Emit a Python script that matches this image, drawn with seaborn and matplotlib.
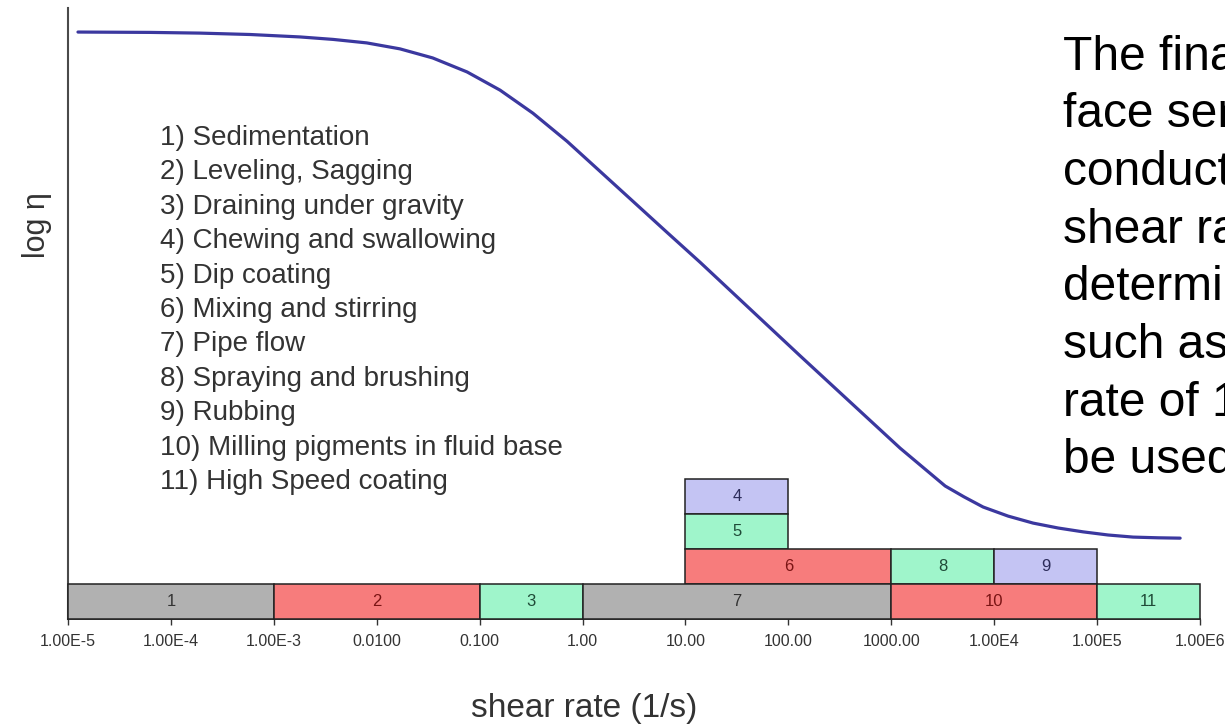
import matplotlib
matplotlib.use("Agg")
import matplotlib.pyplot as plt
import matplotlib.ticker as mticker
import numpy as np
import seaborn as sns

# Flow curve: viscosity (log scale, arbitrary units) versus shear rate
shear_rate = [1.25e-5, 6.27e-5, 1.9e-4, 5.87e-4, 1.8e-3, 3.76e-3, 8.0e-3,
              1.68e-2, 3.5e-2, 7.55e-2, 0.158, 0.33, 0.706, 1.48, 3.10, 6.6,
              13.9, 130, 1220, 3340, 5093, 7800, 13650, 23900, 41780, 73100,
              127900, 224000, 391700, 641000]
log_eta = [16.77, 16.76, 16.74, 16.70, 16.63, 16.56, 16.46, 16.29, 16.03,
           15.63, 15.11, 14.45, 13.65, 12.79, 11.93, 11.05, 10.19, 7.52,
           4.88, 3.80, 3.49, 3.20, 2.94, 2.74, 2.60, 2.49, 2.40, 2.34, 2.32,
           2.31]

# Typical shear-rate ranges of processes
process_ids = ["1", "2", "3", "4", "5", "6", "7", "8", "9", "10", "11"]
process_names = [
    "Sedimentation",
    "Leveling, Sagging",
    "Draining under gravity",
    "Chewing and swallowing",
    "Dip coating",
    "Mixing and stirring",
    "Pipe flow",
    "Spraying and brushing",
    "Rubbing",
    "Milling pigments in fluid base",
    "High Speed coating",
]
range_start = [1e-5, 1e-3, 0.1, 10, 10, 10, 1, 1e3, 1e4, 1e3, 1e5]
range_end = [1e-3, 0.1, 1, 100, 100, 1e3, 1e3, 1e4, 1e5, 1e5, 1e6]
range_row = [0, 0, 0, 3, 2, 1, 0, 1, 1, 0, 0]
range_group = ["grey", "red", "green", "blue", "green", "red", "grey",
               "green", "blue", "red", "green"]

tick_values = [1e-5, 1e-4, 1e-3, 1e-2, 1e-1, 1, 10, 100, 1e3, 1e4, 1e5, 1e6]
tick_labels = ["1.00E-5", "1.00E-4", "1.00E-3", "0.0100", "0.100", "1.00",
               "10.00", "100.00", "1000.00", "1.00E4", "1.00E5", "1.00E6"]

note_lines = ["The final", "face sen", "conducted", "shear rate",
              "determined", "such as", "rate of 1", "be used"]

fill_colors = {"grey": "#b1b1b1", "red": "#f77c7c",
               "green": "#9ff5cb", "blue": "#c4c4f3"}
text_colors = {"grey": "#333333", "red": "#7a1414",
               "green": "#1f4a37", "blue": "#2c2c5a"}

sns.set_theme(style="white")
plt.rcParams["font.family"] = ["Liberation Sans", "DejaVu Sans"]

W, H = 1225, 725
fig = plt.figure(figsize=(W / 100, H / 100), dpi=100)
fig.patch.set_facecolor("white")

ax_left, ax_right, ax_top, ax_bottom = 68, 1200, 8, 619
ax = fig.add_axes([ax_left / W, 1 - ax_bottom / H,
                   (ax_right - ax_left) / W, (ax_bottom - ax_top) / H])
ax.set_xscale("log")
ax.set_xlim(1e-5, 1e6)
ax.set_ylim(0, (ax_bottom - ax_top) / 35)

# process range blocks
for pid, s, e, r, g in zip(process_ids, range_start, range_end,
                           range_row, range_group):
    ax.barh(r, e - s, left=s, height=1, align="edge",
            color=fill_colors[g], edgecolor="#222222", linewidth=1.1,
            clip_on=False, zorder=3)
    ax.text(np.sqrt(s * e), r + 0.5, pid, ha="center", va="center",
            fontsize=12, color=text_colors[g], zorder=4)

# viscosity curve
sns.lineplot(x=shear_rate, y=log_eta, ax=ax, color="#3b389f",
             linewidth=2.3, sort=True, zorder=5)

sns.despine(ax=ax)
ax.spines["left"].set_color("#4a4a4a")
ax.spines["left"].set_linewidth(1.5)
ax.spines["bottom"].set_color("#222222")
ax.spines["bottom"].set_linewidth(1.2)
ax.set_yticks([])
ax.set_xticks(tick_values)
ax.set_xticklabels(tick_labels)
ax.xaxis.set_minor_locator(mticker.LogLocator(base=10, subs=np.arange(2, 10)))
ax.xaxis.set_minor_formatter(mticker.NullFormatter())
ax.tick_params(axis="x", which="major", direction="out", length=4, width=1,
               color="#333333", labelsize=11.5, labelcolor="#333333", pad=7,
               bottom=True)
ax.tick_params(axis="x", which="minor", direction="out", length=2.5,
               width=0.8, color="#555555", bottom=True)
ax.set_xlabel("")
ax.set_ylabel("")

# axis titles
fig.text(37 / W, 1 - 225 / H, "log η", rotation=90, ha="center",
         va="center", fontsize=22, color="#333333")
fig.text(584 / W, 1 - 708 / H, "shear rate (1/s)", ha="center",
         va="center", fontsize=24, color="#333333")

# numbered process key
for i, (pid, name) in enumerate(zip(process_ids, process_names)):
    fig.text(160 / W, 1 - (138 + 34.4 * i) / H, f"{pid}) {name}",
             ha="left", va="center", fontsize=20, color="#333333")

# side note text, running off the right edge
for i, line in enumerate(note_lines):
    fig.text(1063 / W, 1 - (57 + 57.7 * i) / H, line, ha="left",
             va="center", fontsize=34.5, color="#000000")

fig.savefig("out.png", dpi=100, facecolor="white")
